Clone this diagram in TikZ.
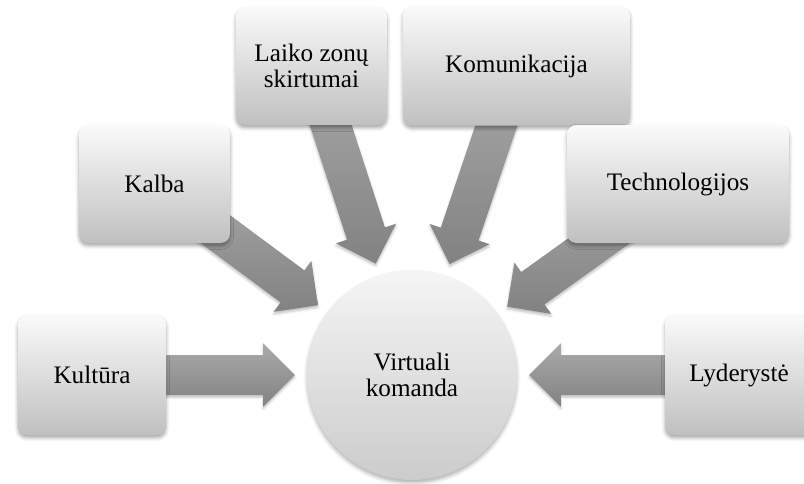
\documentclass[tikz,border=0pt]{standalone}
\usepackage{fontspec}
\setmainfont{Liberation Serif}
\usetikzlibrary{calc,backgrounds,shadows.blur}

\definecolor{boxtop}{RGB}{250,250,250}
\definecolor{boxbottom}{RGB}{192,192,192}
\definecolor{arrowtop}{RGB}{170,170,170}
\definecolor{arrowbottom}{RGB}{130,130,130}

% block arrow from a factor box towards the centre circle
\newcommand\blockarrow[2]{%
	\coordinate (tip-#1) at ($(#2)!100pt!(#1)$);
	\path[flow] let \p1=(#1), \p2=(tip-#1), \n1={atan2(\y2-\y1,\x2-\x1)} in
		($(\p1)+(\n1+90:17pt)$) -- ($(\p2)+(\n1+180:27pt)+(\n1+90:17pt)$)
		-- ($(\p2)+(\n1+180:27pt)+(\n1+90:27pt)$) -- (\p2)
		-- ($(\p2)+(\n1+180:27pt)+(\n1-90:27pt)$) -- ($(\p2)+(\n1+180:27pt)+(\n1-90:17pt)$)
		-- ($(\p1)+(\n1-90:17pt)$) -- cycle;
}

\begin{document}
\begin{tikzpicture}[x=0.03cm, y=-0.03cm,
	every node/.style={font=\rmfamily\fontsize{21.5}{22}\selectfont},
	factor/.style={rounded corners=8pt, top color=boxtop, bottom color=boxbottom, align=center, inner sep=0pt,
		blur shadow={shadow xshift=0pt, shadow yshift=-2.5pt, shadow blur radius=3pt, shadow opacity=35}},
	flow/.style={top color=arrowtop, bottom color=arrowbottom,
		blur shadow={shadow xshift=0pt, shadow yshift=-2pt, shadow blur radius=2pt, shadow opacity=25}}]
	\useasboundingbox (0,0) rectangle (804,484);
	\node[circle, minimum size=6.3cm, top color=white!96!black, bottom color=white!80!black, align=center, inner sep=0pt,
		blur shadow={shadow xshift=0pt, shadow yshift=-2.5pt, shadow blur radius=3pt, shadow opacity=30}]
		(komanda) at (412,375) {Virtuali\\komanda};
	\node[factor, minimum width=4.44cm, minimum height=3.6cm] (kultura) at (92,375) {Kultūra};
	\node[factor, minimum width=4.53cm, minimum height=3.54cm] (kalba) at (154.5,184) {Kalba};
	\node[factor, minimum width=4.53cm, minimum height=3.54cm] (laiko) at (311.5,66) {Laiko zonų\\skirtumai};
	\node[factor, minimum width=6.81cm, minimum height=3.57cm] (komunikacija) at (516.5,66) {Komunikacija};
	\node[factor, minimum width=6.66cm, minimum height=3.54cm] (technologijos) at (678,184) {Technologijos};
	\node[factor, minimum width=4.44cm, minimum height=3.6cm] (lyderyste) at (739,375) {Lyderystė};
	\begin{scope}[on background layer]
		\foreach \f in {kultura,kalba,laiko,komunikacija,technologijos,lyderyste}
			\blockarrow{\f}{komanda};
	\end{scope}
\end{tikzpicture}
\end{document}
